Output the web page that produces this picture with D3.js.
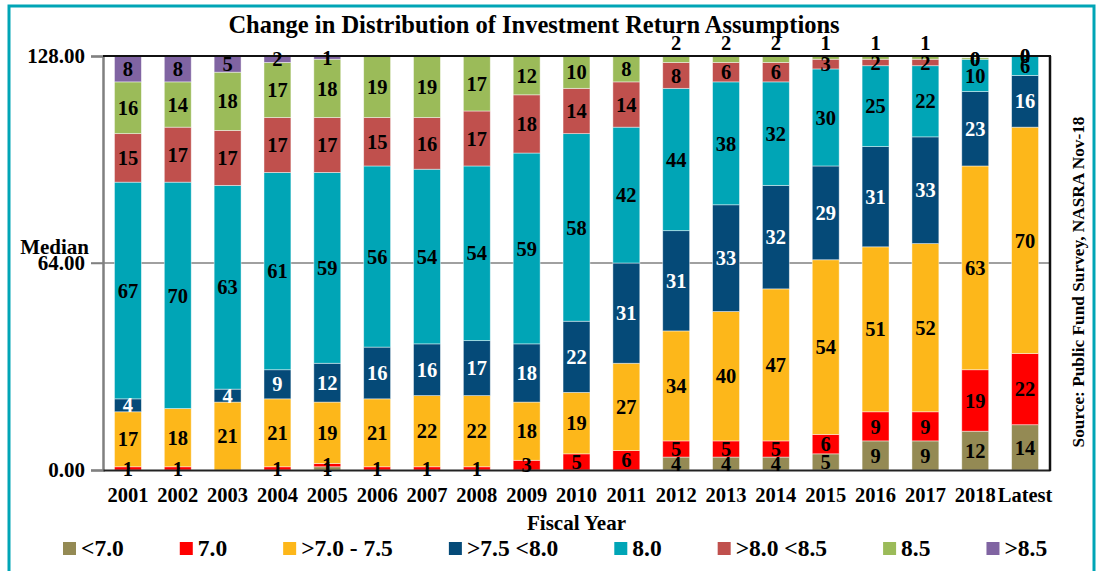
<!DOCTYPE html>
<html>
<head>
<meta charset="utf-8">
<script src="https://cdn.jsdelivr.net/npm/d3@7"></script>
<style>
  body { margin: 0; background: #fff; }
  svg { display: block; font-family: "Liberation Serif", "Times New Roman", serif; font-weight: bold; }
</style>
</head>
<body>
<div id="chart"></div>
<script>
(function() {
"use strict";

// fiscal years on the x axis
const years = ["2001", "2002", "2003", "2004", "2005", "2006", "2007", "2008", "2009", "2010",
               "2011", "2012", "2013", "2014", "2015", "2016", "2017", "2018", "Latest"];

// number of plans in each return assumption bucket (null = no label shown)
const below70   = [null, null, null, null, 1, null, null, null, null, null, null, 4, 4, 4, 5, 9, 9, 12, 14];
const at70      = [1, 1, null, 1, 1, 1, 1, 1, 3, 5, 6, 5, 5, 5, 6, 9, 9, 19, 22];
const from70to75 = [17, 18, 21, 21, 19, 21, 22, 22, 18, 19, 27, 34, 40, 47, 54, 51, 52, 63, 70];
const from75to80 = [4, null, 4, 9, 12, 16, 16, 17, 18, 22, 31, 31, 33, 32, 29, 31, 33, 23, 16];
const at80      = [67, 70, 63, 61, 59, 56, 54, 54, 59, 58, 42, 44, 38, 32, 30, 25, 22, 10, 6];
const from80to85 = [15, 17, 17, 17, 17, 15, 16, 17, 18, 14, 14, 8, 6, 6, 3, 2, 2, 0, 0];
const at85      = [16, 14, 18, 17, 18, 19, 19, 17, 12, 10, 8, 2, 2, 2, 1, 1, 1, 0.45, 0];
const above85   = [8, 8, 5, 2, 1, null, null, null, null, null, null, null, null, null, null, null, null, null, null];

const seriesNames = ["<7.0", "7.0", ">7.0 - 7.5", ">7.5 <8.0", "8.0", ">8.0 <8.5", "8.5", ">8.5"];
const seriesValues = [below70, at70, from70to75, from75to80, at80, from80to85, at85, above85];
const colors = ["#948A54", "#FF0000", "#FDB71A", "#054A78", "#00A5B6", "#C0504D", "#9BBB59", "#8064A2"];

const yTicks = [0, 64, 128];

const WIDTH = 1100;
const HEIGHT = 571;
const LEFT = 103, RIGHT = 1050, TOP = 56, BOTTOM = 470;

const rows = years.map((y, i) => {
  const row = { year: y };
  seriesNames.forEach((s, j) => { row[s] = seriesValues[j][i]; });
  return row;
});

const SVG = d3.select("#chart")
              .append("svg")
              .attr("width", WIDTH)
              .attr("height", HEIGHT);

// outer frame
SVG.append("rect")
  .attr("x", 9).attr("y", 6)
  .attr("width", 1085).attr("height", 590)
  .attr("fill", "none")
  .attr("stroke", "#00A5B6")
  .attr("stroke-width", 3);

SVG.append("text")
  .attr("x", 534)
  .attr("y", 33)
  .attr("text-anchor", "middle")
  .attr("font-size", 24.5)
  .text("Change in Distribution of Investment Return Assumptions");

const xScale = d3.scaleBand()
                 .domain(years)
                 .range([LEFT, RIGHT])
                 .paddingInner(0.46)
                 .paddingOuter(0.23);

const yScale = d3.scaleLinear()
                 .domain([0, 128])
                 .range([BOTTOM, TOP]);

const stack = d3.stack()
                .keys(seriesNames)
                .value((d, key) => d[key] || 0);
const layers = stack(rows);

// median line
SVG.append("line")
  .attr("x1", LEFT - 12).attr("x2", RIGHT)
  .attr("y1", yScale(64)).attr("y2", yScale(64))
  .attr("stroke", "#808080")
  .attr("stroke-width", 1.5);

const layerG = SVG.selectAll("g.layer")
  .data(layers)
  .enter()
  .append("g")
    .attr("class", "layer")
    .attr("fill", (d, i) => colors[i]);

layerG.selectAll("rect")
  .data(d => d)
  .enter()
  .append("rect")
    .attr("x", d => xScale(d.data.year))
    .attr("y", d => yScale(d[1]))
    .attr("width", xScale.bandwidth())
    .attr("height", d => yScale(d[0]) - yScale(d[1]))
    .attr("stroke", "rgba(255,255,255,0.55)")
    .attr("stroke-width", 0.8);

// axes
const yAxis = d3.axisLeft(yScale)
                .tickValues(yTicks)
                .tickFormat(d3.format(".2f"))
                .tickSize(12)
                .tickPadding(6);

const yG = SVG.append("g")
  .attr("transform", `translate(${LEFT}, 0)`)
  .call(yAxis);
yG.select(".domain").attr("stroke", "#808080").attr("stroke-width", 2.5);
yG.selectAll(".tick line").attr("stroke", "#808080").attr("stroke-width", 1.5);
yG.selectAll(".tick text")
  .attr("font-size", 21)
  .attr("font-family", "Liberation Serif, serif")
  .attr("font-weight", "bold")
  .attr("fill", "#000");

SVG.append("text")
  .attr("x", LEFT - 14)
  .attr("y", yScale(64) - 9)
  .attr("text-anchor", "end")
  .attr("font-size", 21)
  .text("Median");

const xAxis = d3.axisBottom(xScale).tickSize(0).tickPadding(17);
const xG = SVG.append("g")
  .attr("transform", `translate(0, ${BOTTOM})`)
  .call(xAxis);
xG.select(".domain").attr("stroke", "#222").attr("stroke-width", 2);
xG.selectAll(".tick text")
  .attr("font-size", 20.5)
  .attr("font-family", "Liberation Serif, serif")
  .attr("font-weight", "bold")
  .attr("fill", "#000");

// plot border top and right
SVG.append("line")
  .attr("x1", LEFT).attr("x2", RIGHT + 1)
  .attr("y1", TOP).attr("y2", TOP)
  .attr("stroke", "#111").attr("stroke-width", 2);
SVG.append("line")
  .attr("x1", RIGHT).attr("x2", RIGHT)
  .attr("y1", TOP).attr("y2", BOTTOM + 1)
  .attr("stroke", "#111").attr("stroke-width", 2.5);

// data labels
const fmt = d3.format(".0f");
layers.forEach((layer, li) => {
  SVG.append("g")
    .selectAll("text")
    .data(layer.filter(d => d.data[layer.key] != null))
    .enter()
    .append("text")
      .attr("x", d => xScale(d.data.year) + xScale.bandwidth() / 2)
      .attr("y", d => {
        const v = d.data[layer.key];
        if (layer.key === "8.5" && v >= 1 && v < 3) return yScale(128) - 13;
        return (yScale(d[0]) + yScale(d[1])) / 2;
      })
      .attr("dy", "0.35em")
      .attr("text-anchor", "middle")
      .attr("font-size", 20.5)
      .attr("fill", layer.key === ">7.5 <8.0" ? "#fff" : "#000")
      .text(d => fmt(d.data[layer.key]));
});

SVG.append("text")
  .attr("x", (LEFT + RIGHT) / 2)
  .attr("y", 530)
  .attr("text-anchor", "middle")
  .attr("font-size", 21)
  .text("Fiscal Year");

// legend
const legend = SVG.append("g");
let lx = 63;
seriesNames.forEach((name, i) => {
  const item = legend.append("g").attr("transform", `translate(${lx}, 0)`);
  item.append("rect")
    .attr("x", 0).attr("y", 542)
    .attr("width", 13).attr("height", 13)
    .attr("fill", colors[i]);
  const t = item.append("text")
    .attr("x", 18).attr("y", 556)
    .attr("font-size", 23.5)
    .text(name);
  lx += 18 + t.node().getComputedTextLength() + 56;
});

SVG.append("text")
  .attr("transform", "translate(1084, 282) rotate(-90)")
  .attr("text-anchor", "middle")
  .attr("font-size", 17.3)
  .text("Source: Public Fund Survey, NASRA Nov-18");

})();
</script>
</body>
</html>
